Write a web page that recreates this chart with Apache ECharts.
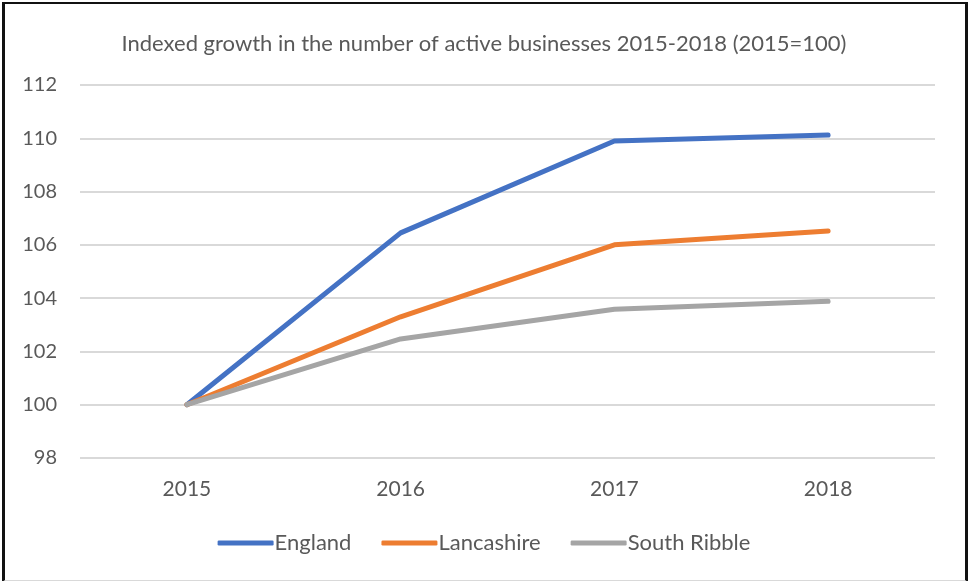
<!DOCTYPE html>
<html>
<head>
<meta charset="utf-8">
<script src="https://cdn.jsdelivr.net/npm/echarts@6/dist/echarts.min.js"></script>
<style>
  html, body { margin: 0; padding: 0; background: #fff; }
  #frame {
    position: absolute; left: 2px; top: 2px; width: 960px; height: 576px;
    border-left: 3px solid #111; border-top: 2px solid #111; border-right: 3px solid #111;
    border-bottom: 2px solid #d9d9d9; box-sizing: content-box;
  }
  #chart { position: absolute; left: 0; top: 0; width: 968px; height: 581px; }
</style>
</head>
<body>
<div id="frame"></div>
<div id="chart"></div>
<script>
  // Index values, 2015 = 100
  var years = ['2015', '2016', '2017', '2018'];
  var england = [100, 106.45, 109.9, 110.12];
  var lancashire = [100, 103.3, 106.0, 106.52];
  var southRibble = [100, 102.47, 103.58, 103.88];

  var textColor = '#595959';
  var fontFamily = 'Lato, "Open Sans", sans-serif';

  function lineSeries(name, data, color) {
    return {
      name: name,
      type: 'line',
      data: data,
      symbol: 'none',
      lineStyle: { width: 5, color: color, cap: 'round', join: 'round' },
      itemStyle: { color: color }
    };
  }

  var chart = echarts.init(document.getElementById('chart'), null, { renderer: 'canvas' });
  chart.setOption({
    animation: false,
    backgroundColor: 'transparent',
    title: {
      text: 'Indexed growth in the number of active businesses 2015-2018 (2015=100)',
      left: 'center',
      top: 28,
      textStyle: { color: textColor, fontSize: 22, fontWeight: 'normal', fontFamily: fontFamily }
    },
    legend: {
      bottom: 22,
      left: 'center',
      itemWidth: 56,
      itemHeight: 5,
      itemGap: 30,
      icon: 'roundRect',
      textStyle: { color: textColor, fontSize: 22, fontFamily: fontFamily, padding: [0, 0, 0, -4] },
      data: ['England', 'Lancashire', 'South Ribble']
    },
    grid: { left: 80, right: 33, top: 85, bottom: 123, containLabel: false },
    xAxis: {
      type: 'category',
      data: years,
      boundaryGap: true,
      axisLine: { show: false },
      axisTick: { show: false },
      axisLabel: { color: textColor, fontSize: 21, fontFamily: fontFamily, margin: 21 }
    },
    yAxis: {
      type: 'value',
      min: 98,
      max: 112,
      interval: 2,
      axisLine: { show: false },
      axisTick: { show: false },
      axisLabel: { color: textColor, fontSize: 20, fontFamily: fontFamily, margin: 23 },
      splitLine: { lineStyle: { color: '#d9d9d9', width: 2 } }
    },
    series: [
      lineSeries('England', england, '#4472C4'),
      lineSeries('Lancashire', lancashire, '#ED7D31'),
      lineSeries('South Ribble', southRibble, '#A5A5A5')
    ]
  });
</script>
</body>
</html>
